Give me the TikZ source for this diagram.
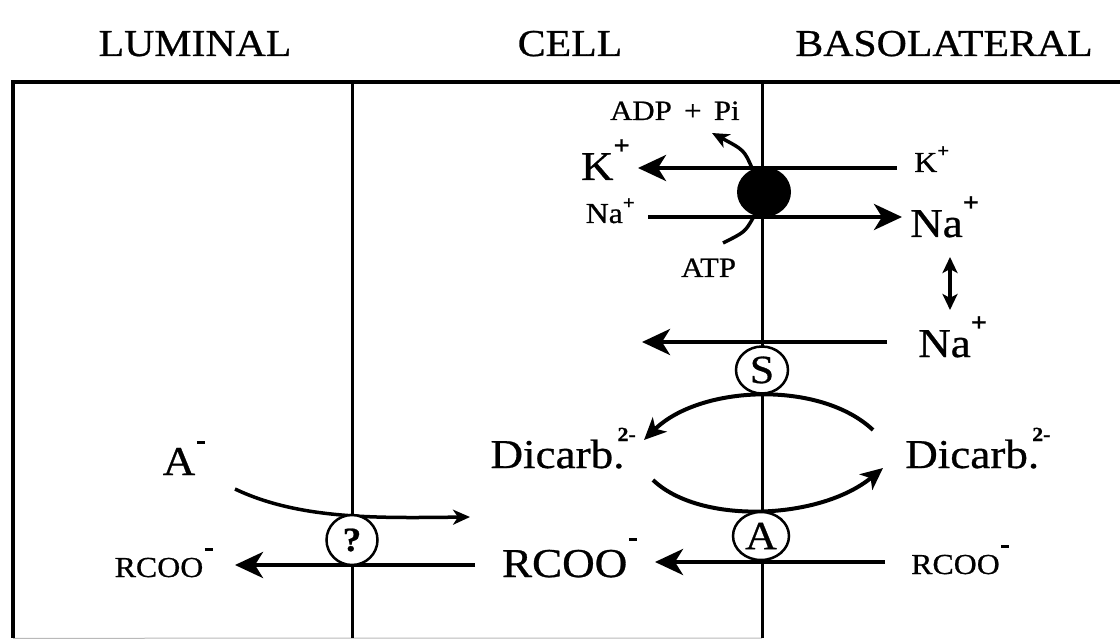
\documentclass[tikz,border=0pt]{standalone}
\usepackage{fontspec}
\setmainfont{Liberation Serif}[FakeStretch=1.1,FakeBold=0.7]
\usetikzlibrary{arrows.meta,shapes.geometric}
\newcommand\upmark[3]{\raisebox{#1}{\fontsize{#2}{#2}\selectfont\bfseries #3}}
\newcommand\minusmark[1]{\hspace{1.5pt}\raisebox{#1}{\rule{8pt}{3.5pt}}}
\begin{document}
\begin{tikzpicture}[x=1pt,y=-1pt,
 memb/.style={line width=3pt},
 frame/.style={line width=4pt},
 flow/.style={line width=4pt,-{Stealth[length=28pt,width=26pt,inset=8pt]}},
 cflow/.style={line width=4pt,-{Stealth[length=22pt,width=20pt,inset=6pt]}},
 sflow/.style={line width=3.5pt,-{Stealth[length=17pt,width=15pt,inset=5pt]}},
 plain/.style={line width=3.5pt},
 dflow/.style={line width=4pt,{Stealth[length=16pt,width=15pt,inset=4pt]}-{Stealth[length=16pt,width=15pt,inset=4pt]}},
 hdr/.style={anchor=base,inner sep=0pt,font=\fontsize{38}{42}\selectfont},
 big/.style={inner sep=0pt,font=\fontsize{41}{44}\selectfont},
 small/.style={inner sep=0pt,font=\fontsize{29}{32}\selectfont},
 mid/.style={inner sep=0pt,font=\fontsize{28}{32}\selectfont},
 carrier/.style={ellipse,draw,fill=white,line width=2.5pt,inner sep=0pt,font=\fontsize{40}{42}\selectfont},
]
\useasboundingbox (0,0) rectangle (1120,639);

% headers
\node[hdr] (lum) at (195,56) {LUMINAL};
\node[hdr] (cell) at (570,56) {CELL};
\node[hdr] (baso) at (944,56) {BASOLATERAL};

% frame and membranes
\coordinate (tl) at (13,82);
\coordinate (tr) at (1120,82);
\coordinate (bl) at (13,638);
\coordinate (apT) at (352,82);
\coordinate (apB) at (352,638);
\coordinate (bsT) at (762,82);
\coordinate (bsB) at (762,638);
\draw[gray!55,line width=1pt] (13,638.3) -- (bsB);
\draw[frame] (tr) -- (tl) -- (bl);
\draw[memb] (apT) -- (apB);
\draw[memb] (bsT) -- (bsB);

% Na/K pump
\node[ellipse,fill=black,minimum width=54pt,minimum height=50pt,inner sep=0pt] (pump) at (764,192) {};
\node[big,anchor=base east] (kbig) at (630,180) {K\upmark{26pt}{26}{+}};
\node[small,anchor=base west] (ksmall) at (914,172) {K\upmark{15pt}{19}{+}};
\coordinate (kS) at (897,168);
\coordinate (kE) at (638,168);
\draw[flow] (kS) -- (kE);
\node[small,anchor=base east] (nasmall) at (635,223) {Na\upmark{14pt}{19}{+}};
\node[big,anchor=base west] (nabig) at (910,237) {Na\upmark{26pt}{26}{+}};
\coordinate (naS) at (648,217);
\coordinate (naE) at (902,217);
\draw[flow] (naS) -- (naE);

\node[mid,anchor=base west] (adp) at (610,120) {ADP \,+\, Pi};
\coordinate (adpS) at (752,168);
\coordinate (adpE) at (712,133);
\draw[sflow] (adpS) .. controls (744,150) .. (adpE);
\node[mid,anchor=base west] (atp) at (681,277) {ATP};
\coordinate (atpS) at (753,218);
\coordinate (atpE) at (723,243);
\draw[plain] (atpS) .. controls (745,232) .. (atpE);

% Na exchange
\coordinate (dS) at (950,257);
\coordinate (dE) at (950,310);
\draw[dflow] (dS) -- (dE);
\node[big,anchor=base west] (na2) at (918,357) {Na\upmark{26pt}{26}{+}};
\coordinate (na2S) at (887,342);
\coordinate (na2E) at (642,342);
\draw[flow] (na2S) -- (na2E);
\node[carrier,minimum width=52pt,minimum height=47pt] (S) at (762,370) {S};

% dicarboxylate
\node[big,anchor=base east] (dicL) at (636,468) {Dicarb.\hspace{-7pt}\upmark{27pt}{20}{2-}};
\node[big,anchor=base west] (dicR) at (905,468) {Dicarb.\hspace{-7pt}\upmark{27pt}{20}{2-}};
\coordinate (uS) at (873,430);
\coordinate (uE) at (644,440);
\draw[cflow] (uS) .. controls (820,380) and (700,385) .. (uE);
\coordinate (lS) at (653,480);
\coordinate (lE) at (883,468);
\draw[cflow] (lS) .. controls (700,525) and (820,520) .. (lE);
\node[carrier,minimum width=56pt,minimum height=48pt] (A) at (761,536) {A};

% RCOO
\node[big,anchor=base east] (rbig) at (637,577) {RCOO\minusmark{36pt}};
\node[small,anchor=base west] (rsmR) at (911,574) {RCOO\minusmark{26pt}};
\coordinate (rS) at (885,562);
\coordinate (rE) at (655,562);
\draw[flow] (rS) -- (rE);

% luminal side
\node[big,anchor=base east] (aminus) at (205,475) {A\minusmark{31pt}};
\node[small,anchor=base east] (rsmL) at (213,577) {RCOO\minusmark{26pt}};
\coordinate (lrS) at (475,565);
\coordinate (lrE) at (235,565);
\draw[flow] (lrS) -- (lrE);
\coordinate (aS) at (235,489);
\coordinate (aE) at (470,517);
\draw[sflow] (aS) .. controls (300,520) and (380,518) .. (aE);
\node[carrier,minimum width=51pt,minimum height=50pt,font=\fontsize{34}{36}\selectfont\bfseries] (Q) at (352,540) {?};
\end{tikzpicture}
\end{document}
